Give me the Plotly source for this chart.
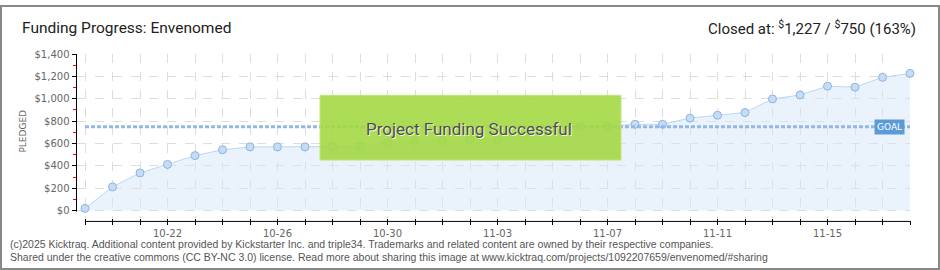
import plotly.graph_objects as go
import pandas as pd

dates = ["2025-10-19", "2025-10-20", "2025-10-21", "2025-10-22", "2025-10-23", "2025-10-24",
         "2025-10-25", "2025-10-26", "2025-10-27", "2025-10-28", "2025-10-29", "2025-10-30",
         "2025-10-31", "2025-11-01", "2025-11-02", "2025-11-03", "2025-11-04", "2025-11-05",
         "2025-11-06", "2025-11-07", "2025-11-08", "2025-11-09", "2025-11-10", "2025-11-11",
         "2025-11-12", "2025-11-13", "2025-11-14", "2025-11-15", "2025-11-16", "2025-11-17",
         "2025-11-18"]
pledged = [20, 212, 337, 413, 492, 544, 570, 570, 570, 573, 573, 608, 626, 626, 634, 637,
           680, 720, 754, 754, 772, 772, 827, 853, 877, 999, 1034, 1113, 1104, 1192, 1227]
goal = 750
goal_x = [dates[0], dates[-1]]
goal_y = [goal, goal]
label_dates = ["2025-10-22", "2025-10-26", "2025-10-30", "2025-11-03", "2025-11-07",
               "2025-11-11", "2025-11-15"]

W, H = 940, 270
def px(x):
    return x / W
def py(y):
    return 1 - y / H

# pixel layout of the plot
X_AXIS_PX, X_FIRST, X_LAST = 76.5, 85, 910
Y_TOP, Y_ZERO, Y_AXIS_PX = 50, 209.5, 220.5
Y_MAX = 1400

d0 = pd.Timestamp(dates[0]); d1 = pd.Timestamp(dates[-1])
span = d1 - d0
x_start = d0 - span * ((X_FIRST - X_AXIS_PX) / (X_LAST - X_FIRST))
y_min = -Y_MAX * (Y_AXIS_PX - Y_ZERO) / (Y_ZERO - Y_TOP)

COND = "Roboto, Liberation Sans, sans-serif"

fig = go.Figure()
fig.add_trace(go.Scatter(
    x=dates, y=pledged, mode="lines+markers", fill="tozeroy",
    fillcolor="rgba(214,231,250,0.5)",
    line=dict(color="#b9d7f5", width=1),
    marker=dict(size=8, color="#c4dcf6", line=dict(color="#8fb4e0", width=1)),
    cliponaxis=False, showlegend=False, hoverinfo="skip"))
fig.add_trace(go.Scatter(
    x=goal_x, y=goal_y, mode="lines",
    line=dict(color="#93b8e3", width=3, dash="4px,2px"),
    showlegend=False, hoverinfo="skip"))
fig.add_trace(go.Scatter(x=goal_x, y=[None, None], xaxis="x2", mode="lines",
                         showlegend=False, hoverinfo="skip"))

xr = [x_start, d1]
DAY = 86400000
fig.update_layout(
    width=W, height=H,
    margin=dict(l=0, r=0, t=0, b=0),
    paper_bgcolor="white", plot_bgcolor="white",
    font=dict(family="DejaVu Sans", size=10, color="#666666"),
    xaxis=dict(
        type="date", range=xr, domain=[px(X_AXIS_PX), px(X_LAST)],
        anchor="y",
        tickvals=label_dates, tickformat="%m-%d",
        ticks="outside", ticklen=3, tickcolor="black", tickwidth=1,
        showline=False,
        showgrid=True, gridcolor="#dddddd", griddash="dash", gridwidth=1,
        minor=dict(dtick=DAY, tick0=dates[0], ticks="outside", ticklen=3,
                   tickcolor="black", showgrid=True, gridcolor="#dddddd",
                   griddash="dash"),
        zeroline=False, tickfont=dict(size=10, color="#666666")),
    xaxis2=dict(
        type="date", range=xr, domain=[px(X_AXIS_PX), px(X_LAST)], overlaying="x",
        anchor="y",
        tickvals=label_dates, showticklabels=False,
        ticks="inside", ticklen=2, tickcolor="black",
        minor=dict(dtick=DAY, tick0=dates[0], ticks="inside", ticklen=2,
                   tickcolor="black"),
        showgrid=False, showline=False, zeroline=False),
    yaxis=dict(
        range=[y_min, Y_MAX], domain=[py(Y_AXIS_PX), py(Y_TOP)],
        anchor="x",
        dtick=200, tick0=0, tickformat="$,",
        ticks="outside", ticklen=4, tickcolor="black",
        showline=False,
        showgrid=True, gridcolor="#dddddd", griddash="dash",
        minor=dict(dtick=100, tick0=0, ticks="outside", ticklen=3, tickcolor="red"),
        zeroline=False, tickfont=dict(size=10, color="#666666")),
)

# white strip to hide grid below the zero level
fig.add_shape(type="rect", xref="paper", yref="paper", x0=px(X_AXIS_PX + 0.5), x1=px(X_LAST + 1),
              y0=py(Y_AXIS_PX - 1), y1=py(Y_ZERO + 1), line=dict(width=0), fillcolor="white",
              layer="below")
# axis lines
fig.add_shape(type="line", xref="paper", yref="paper", x0=px(X_AXIS_PX), x1=px(X_AXIS_PX),
              y0=py(Y_ZERO + 1), y1=py(Y_TOP), line=dict(color="black", width=1), layer="above")
fig.add_shape(type="line", xref="paper", yref="paper", x0=px(X_FIRST), x1=px(X_LAST + 1),
              y0=py(Y_AXIS_PX), y1=py(Y_AXIS_PX), line=dict(color="black", width=1), layer="above")

# border
fig.add_shape(type="rect", xref="paper", yref="paper", x0=px(1), x1=px(939), y0=py(269), y1=py(1),
              line=dict(color="#888888", width=2), fillcolor="rgba(0,0,0,0)", layer="above")

# success box
fig.add_shape(type="rect", xref="paper", yref="paper", x0=px(320), x1=px(621), y0=py(158), y1=py(92),
              line=dict(color="#c2e57f", width=1), fillcolor="rgba(164,216,68,0.9)", layer="above")
fig.add_annotation(xref="paper", yref="paper", x=px(469), y=py(126), text="Project Funding Successful",
                   showarrow=False, xanchor="center", yanchor="middle",
                   font=dict(family=COND, size=17, color="#4f4f4f", shadow="1px 1px 0px #eef8dc"))

# goal label
fig.add_annotation(x=dates[-1], y=goal, xref="x", yref="y", text="GOAL", showarrow=False,
                   xanchor="right", yanchor="middle", xshift=-5,
                   bgcolor="#5b9bd8", borderpad=2,
                   font=dict(family="DejaVu Sans", size=9, color="white"))

# titles
fig.add_annotation(xref="paper", yref="paper", x=px(20), y=py(23), text="Funding Progress: Envenomed",
                   showarrow=False, xanchor="left", yanchor="middle",
                   font=dict(family=COND, size=15.5, color="#222222"))
fig.add_annotation(xref="paper", yref="paper", x=px(918), y=py(23),
                   text="Closed at: <sup>$</sup>1,227 / <sup>$</sup>750 (163%)",
                   showarrow=False, xanchor="right", yanchor="middle",
                   font=dict(family=COND, size=15, color="#222222"))
fig.add_annotation(xref="paper", yref="paper", x=px(23), y=py(129), text="PLEDGED",
                   showarrow=False, textangle=-90, xanchor="center", yanchor="middle",
                   font=dict(family="DejaVu Sans", size=9, color="#666666"))

# footer
footer1 = "(c)2025 Kicktraq. Additional content provided by Kickstarter Inc. and triple34. Trademarks and related content are owned by their respective companies."
footer2 = "Shared under the creative commons (CC BY-NC 3.0) license. Read more about sharing this image at www.kicktraq.com/projects/1092207659/envenomed/#sharing"
fig.add_annotation(xref="paper", yref="paper", x=px(8), y=py(244), text=footer1, showarrow=False,
                   xanchor="left", yanchor="middle",
                   font=dict(family="Liberation Sans", size=10.5, color="#555555"))
fig.add_annotation(xref="paper", yref="paper", x=px(8), y=py(257), text=footer2, showarrow=False,
                   xanchor="left", yanchor="middle",
                   font=dict(family="Liberation Sans", size=10.5, color="#555555"))

fig.write_html("out.html")
